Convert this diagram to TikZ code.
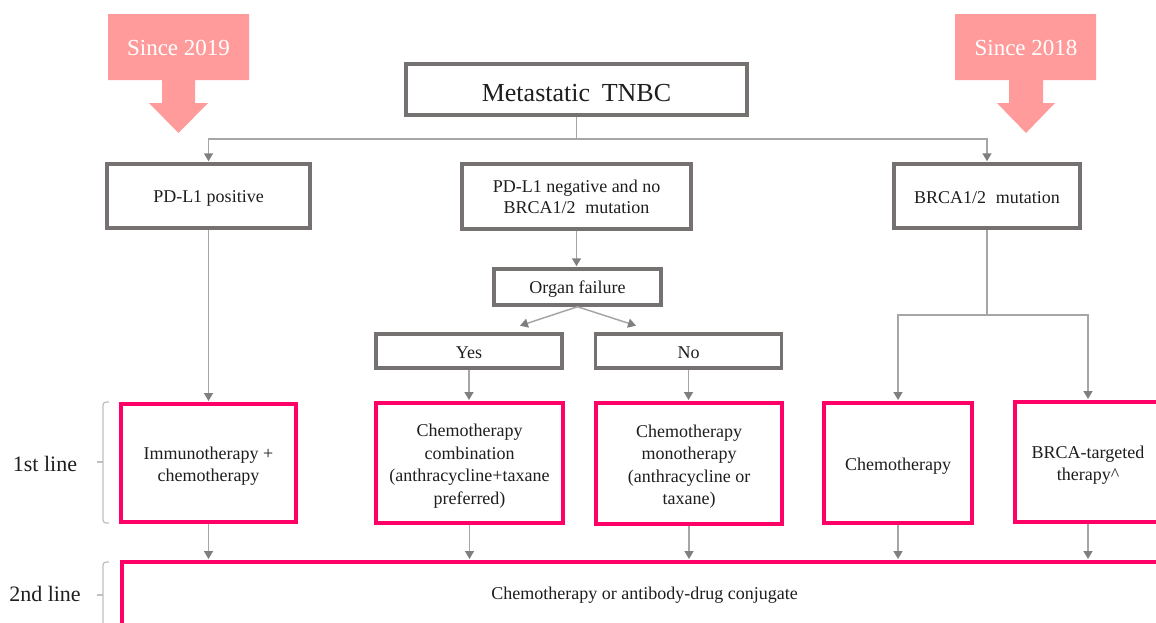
\documentclass[tikz,border=0pt]{standalone}
\usepackage{fontspec}
\setmainfont{Liberation Serif}
\usetikzlibrary{arrows.meta}
\definecolor{boxgray}{HTML}{767171}
\definecolor{pinkb}{HTML}{FF0066}
\definecolor{conn}{HTML}{A6A6A6}
\definecolor{tipgray}{HTML}{7F7F7F}
\definecolor{salmon}{HTML}{FF9B9B}
\definecolor{txt}{HTML}{1E1E1E}
\definecolor{brkc}{HTML}{BFBFBF}
\newcommand\boxtext[1]{\raisebox{-7.5pt}[0pt][0pt]{\begin{tabular}{@{}c@{}}#1\end{tabular}}}
\begin{document}
\begin{tikzpicture}[x=1pt,y=-1pt,
  gbox/.style={draw=boxgray,line width=3.5pt,fill=white,align=center,inner sep=0pt,
    font=\fontsize{18}{21}\selectfont,text=txt,execute at begin node={\rule{0pt}{15pt}}},
  pbox/.style={draw=pinkb,line width=4pt,fill=white,inner sep=0pt,
    font=\fontsize{18}{22.5}\selectfont,text=txt},
  link/.style={draw=conn,line width=1.5pt},
  arr/.style={link,-{Triangle[width=9pt,length=8pt,color=tipgray]},shorten >=1pt},
  brk/.style={draw=brkc,line width=1.2pt,rounded corners=3pt},
  bigarrow/.style={fill=salmon,draw=none},
  bigtext/.style={text=white,font=\fontsize{23}{26}\selectfont,inner sep=0pt},
  linelabel/.style={text=txt,font=\fontsize{22}{26}\selectfont,inner sep=0pt}
]
\useasboundingbox (0,0) rectangle (1156,622);

% block arrows
\path[bigarrow] (108,14) -- (249,14) -- (249,80) -- (195,80) -- (195,103) -- (208,103)
  -- (178.5,133) -- (149,103) -- (162,103) -- (162,80) -- (108,80) -- cycle;
\node[bigtext] (since19) at (178.5,48) {Since 2019};
\path[bigarrow] (955,14) -- (1096,14) -- (1096,80) -- (1043,80) -- (1043,103) -- (1055,103)
  -- (1026,133) -- (997,103) -- (1009,103) -- (1009,80) -- (955,80) -- cycle;
\node[bigtext] (since18) at (1026,48) {Since 2018};

% gray boxes
\node[gbox,minimum width=341,minimum height=51,font=\fontsize{26}{30}\selectfont,
  execute at begin node={\rule{0pt}{24pt}}] (meta) at (576.5,89.5) {Metastatic\hspace{0.45em}TNBC};
\node[gbox,minimum width=203,minimum height=64,execute at begin node={\rule{0pt}{16.5pt}}] (pdpos) at (208.5,196) {PD-L1 positive};
\node[gbox,minimum width=229,minimum height=65,execute at begin node={\rule{0pt}{16.5pt}}] (pdneg) at (576.5,196.5) {PD-L1 negative and no\\BRCA1/2\hspace{0.3em} mutation};
\node[gbox,minimum width=186,minimum height=64,execute at begin node={\rule{0pt}{13pt}}] (brca) at (987,196) {BRCA1/2\hspace{0.3em} mutation};
\node[gbox,minimum width=167,minimum height=36,execute at begin node={\rule{0pt}{16.5pt}}] (organ) at (577.5,287) {Organ failure};
\node[gbox,minimum width=186,minimum height=34] (yes) at (469,351) {Yes};
\node[gbox,minimum width=186,minimum height=34] (no) at (688.5,351) {No};

% pink boxes
\node[pbox,minimum width=175,minimum height=118] (immuno) at (208.5,463) {\boxtext{Immunotherapy +\\chemotherapy}};
\node[pbox,minimum width=187,minimum height=120] (combo) at (469.5,463) {\boxtext{Chemotherapy\\combination\\(anthracycline+taxane\\preferred)}};
\node[pbox,minimum width=186,minimum height=121] (mono) at (689,463.5) {\boxtext{Chemotherapy\\monotherapy\\(anthracycline or\\taxane)}};
\node[pbox,minimum width=148,minimum height=120] (chemo) at (898,463) {\boxtext{Chemotherapy}};
\node[pbox,minimum width=146,minimum height=120] (target) at (1088,462) {\boxtext{BRCA-targeted\\therapy\textasciicircum}};
\node[pbox,minimum width=1045,minimum height=78,
  execute at end node={\rule[-16pt]{0pt}{16pt}}] (second) at (644.5,601) {Chemotherapy or antibody-drug conjugate};

% labels and brackets
\node[linelabel] (l1) at (45,464) {1st line};
\node[linelabel] (l2) at (45,594) {2nd line};
\draw[brk] (109,402) -- (103,402) -- (103,523) -- (109,523);
\draw[brk] (103,462) -- (97,462);
\draw[brk] (109,562) -- (103,562) -- (103,640);
\draw[brk] (103,595) -- (97,595);

% connectors
\coordinate (j1) at (576.5,139);
\draw[link] (meta.south) -- (j1);
\draw[arr] (j1) -| (pdpos.north);
\draw[arr] (j1) -| (brca.north);
\draw[arr] (pdpos.south) -- (immuno.north);
\draw[arr] (pdneg.south) -- (pdneg.south |- organ.north);
\coordinate (ya) at (519,326);
\coordinate (na) at (637,326);
\draw[arr] (organ.south) -- (ya);
\draw[arr] (organ.south) -- (na);
\draw[arr] (yes.south) -- (yes.south |- combo.north);
\draw[arr] (no.south) -- (no.south |- mono.north);
\coordinate (j2) at (987,315);
\draw[link] (brca.south) -- (j2);
\draw[arr] (j2) -| (chemo.north);
\draw[arr] (j2) -| (target.north);
\draw[arr] (immuno.south) -- (immuno.south |- second.north);
\draw[arr] (combo.south) -- (combo.south |- second.north);
\draw[arr] (mono.south) -- (mono.south |- second.north);
\draw[arr] (chemo.south) -- (chemo.south |- second.north);
\draw[arr] (target.south) -- (target.south |- second.north);
\end{tikzpicture}
\end{document}
